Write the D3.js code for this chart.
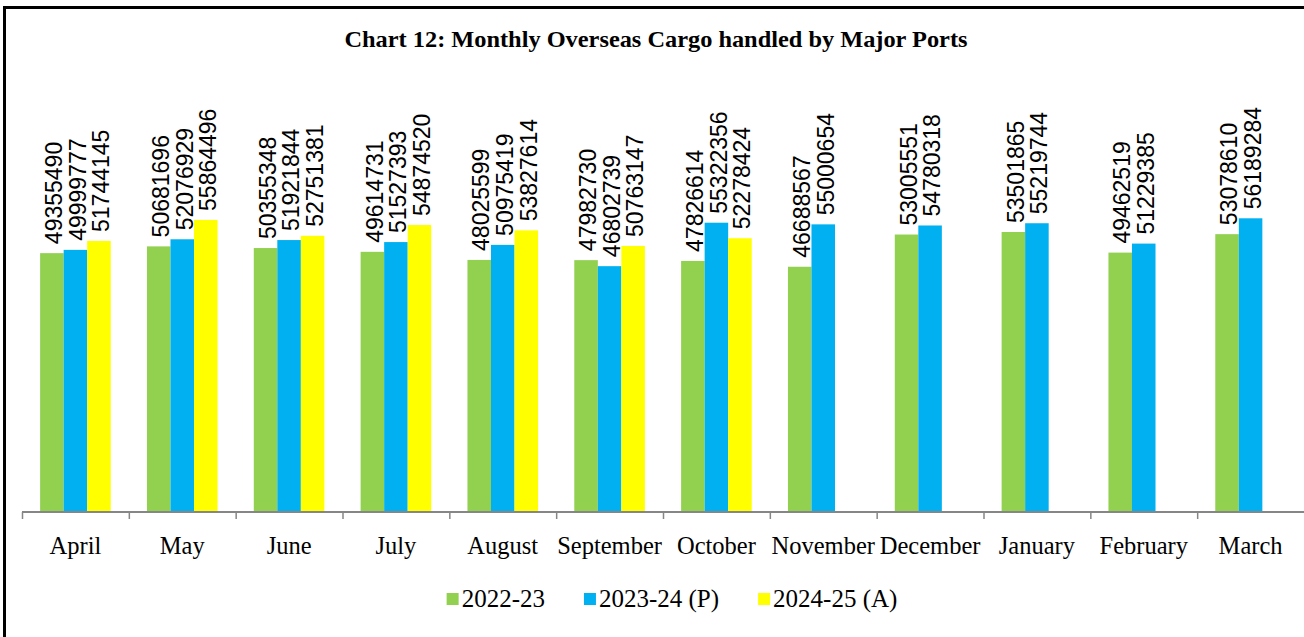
<!DOCTYPE html>
<html>
<head>
<meta charset="utf-8">
<script src="https://cdn.jsdelivr.net/npm/d3@7"></script>
<style>
  body { margin: 0; background: #fff; }
  svg { display: block; }
</style>
</head>
<body>
<div id="chart"></div>
<script>
const months = ['April', 'May', 'June', 'July', 'August', 'September', 'October',
  'November', 'December', 'January', 'February', 'March'];
const seriesNames = ['2022-23', '2023-24 (P)', '2024-25 (A)'];
const seriesColors = ['#92D050', '#00B0F0', '#FFFF00'];
const cargo2022 = [49355490, 50681696, 50355348, 49614731, 48025599, 47982730, 47826614,
  46688567, 53005551, 53501865, 49462519, 53078610];
const cargo2023 = [49999777, 52076929, 51921844, 51527393, 50975419, 46802739, 55322356,
  55000654, 54780318, 55219744, 51229385, 56189284];
const cargo2024 = [51744145, 55864496, 52751381, 54874520, 53827614, 50763147, 52278424];
const title = 'Chart 12: Monthly Overseas Cargo handled by Major Ports';

let width = 1304;
let height = 637;
let baseY = 512;
let plotLeft = 22;
let plotRight = 1304;

let svg = d3.select('#chart')
  .append('svg')
  .attr('width', width)
  .attr('height', height);

// outer frame
svg.append('rect')
  .attr('x', 4.5)
  .attr('y', 7.5)
  .attr('width', width + 10)
  .attr('height', height + 10)
  .attr('fill', 'none')
  .attr('stroke', '#000')
  .attr('stroke-width', 3);

svg.append('text')
  .attr('x', 656)
  .attr('y', 47)
  .attr('text-anchor', 'middle')
  .attr('font-family', 'Liberation Serif')
  .attr('font-weight', 'bold')
  .attr('font-size', 24)
  .attr('textLength', 623)
  .attr('lengthAdjust', 'spacingAndGlyphs')
  .text(title);

let x0 = d3.scaleBand().domain(months).range([plotLeft, plotRight]);
let x1 = d3.scaleBand().domain(seriesNames).range([0, x0.bandwidth()]).paddingOuter(0.77);
let y = d3.scaleLinear().domain([-1.4e6, 60e6]).range([baseY, baseY - 61.4 * 5.1]);

let allSeries = [cargo2022, cargo2023, cargo2024];
let bars = [];
allSeries.forEach((vals, i) => {
  vals.forEach((v, j) => bars.push({month: months[j], series: seriesNames[i], color: seriesColors[i], value: v}));
});

svg.append('g')
  .attr('class', 'bars')
  .selectAll('rect')
  .data(bars)
  .enter()
  .append('rect')
  .attr('x', d => x0(d.month) + x1(d.series))
  .attr('y', d => y(d.value))
  .attr('width', x1.bandwidth())
  .attr('height', d => baseY - y(d.value))
  .attr('fill', d => d.color);

svg.append('g')
  .attr('class', 'bar-labels')
  .selectAll('text')
  .data(bars)
  .enter()
  .append('text')
  .attr('transform', d => {
    let cx = x0(d.month) + x1(d.series) + x1.bandwidth() / 2 + 2;
    return `translate(${cx},${y(d.value) - 9}) rotate(-90)`;
  })
  .attr('dy', '0.36em')
  .attr('font-family', 'Liberation Sans')
  .attr('font-size', 23)
  .attr('fill', '#000')
  .text(d => d.value);

// x axis
let axis = svg.append('g')
  .attr('class', 'x axis')
  .attr('transform', `translate(0,${baseY})`)
  .call(d3.axisBottom(x0).tickSize(0).tickPadding(0));
axis.select('.domain').remove();
axis.selectAll('text')
  .attr('y', 42)
  .attr('dy', 0)
  .attr('font-family', 'Liberation Serif')
  .attr('font-size', 24.5)
  .attr('fill', '#000');
axis.append('line')
  .attr('x1', plotLeft)
  .attr('x2', plotRight)
  .attr('stroke', '#868686')
  .attr('stroke-width', 2);
axis.selectAll('.sep')
  .data(months)
  .enter()
  .append('line')
  .attr('class', 'sep')
  .attr('x1', d => x0(d) + 0.5)
  .attr('x2', d => x0(d) + 0.5)
  .attr('y1', 0)
  .attr('y2', 7)
  .attr('stroke', '#868686')
  .attr('stroke-width', 1.5);

// legend
let legend = svg.append('g').attr('class', 'legend');
let items = legend.selectAll('g')
  .data(seriesNames)
  .enter()
  .append('g');
items.append('rect')
  .attr('width', 12)
  .attr('height', 12)
  .attr('y', 593)
  .attr('fill', (d, i) => seriesColors[i]);
items.append('text')
  .attr('x', 15)
  .attr('y', 607)
  .attr('font-family', 'Liberation Serif')
  .attr('font-size', 25)
  .text(d => d);
let lx = 0;
let offsets = [];
items.each(function() {
  let w = 15 + this.querySelector('text').getComputedTextLength();
  offsets.push(lx);
  lx += w + 39;
});
let total = lx - 39;
let start = 672 - total / 2;
items.attr('transform', (d, i) => `translate(${start + offsets[i]},0)`);
</script>
</body>
</html>
